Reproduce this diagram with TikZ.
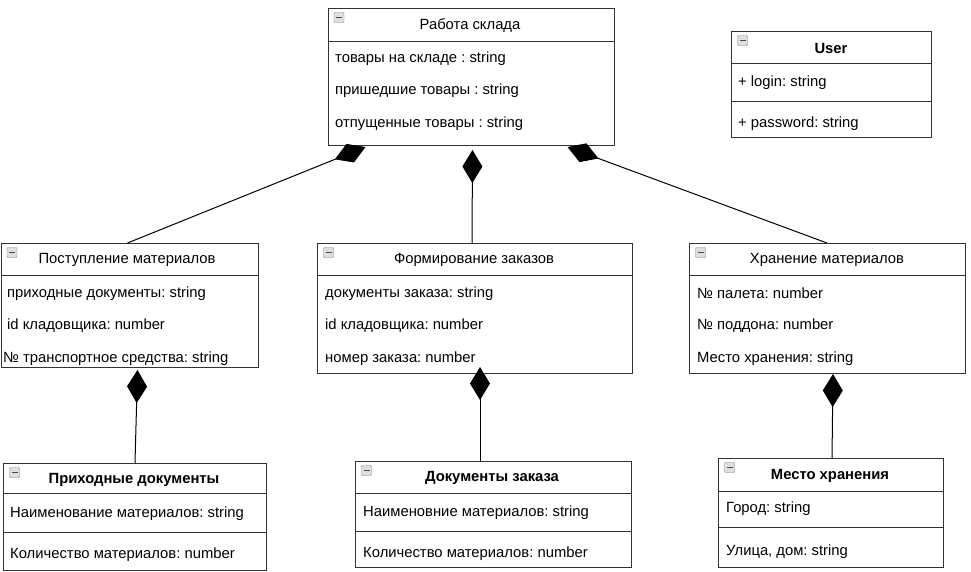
\documentclass[tikz,border=0pt]{standalone}
\usepackage{fontspec}
\setmainfont{Liberation Sans}
\usetikzlibrary{arrows.meta}
\frenchspacing

\tikzset{
  classbox/.style={draw=black!80, line width=1pt, anchor=north west, inner sep=0pt},
  field/.style={anchor=west, inner sep=0pt, yshift=-1.5pt},
  head/.style={inner sep=0pt, yshift=-1pt},
  minusbox/.style={draw=gray, fill=gray!25, rounded corners=1pt, minimum size=10pt, inner sep=0pt,
    path picture={\draw[black!70, line width=1.3pt] ([xshift=2pt]path picture bounding box.west) -- ([xshift=-2pt]path picture bounding box.east);}},
  comp/.style={{Diamond[length=33pt,width=20pt]}-, line width=1pt, black}
}

\begin{document}
\begin{tikzpicture}[x=1pt,y=-1pt,font=\fontsize{14.8}{17}\selectfont]
  \useasboundingbox (0,0) rectangle (971,571);

  % class boxes
  \node[classbox, minimum width=286pt, minimum height=137pt] (rabota) at (327.5,8) {};
  \node[classbox, minimum width=200pt, minimum height=106pt] (user) at (731,31) {};
  \node[classbox, minimum width=257pt, minimum height=124pt] (postup) at (0.5,243) {};
  \node[classbox, minimum width=315pt, minimum height=130pt] (formir) at (317,243) {};
  \node[classbox, minimum width=276pt, minimum height=130pt] (hran) at (689,243) {};
  \node[classbox, minimum width=263pt, minimum height=107pt] (prihod) at (3,463) {};
  \node[classbox, minimum width=276pt, minimum height=106pt] (dokzak) at (355,461) {};
  \node[classbox, minimum width=225pt, minimum height=109pt] (mesto) at (718,458) {};

  % dividers
  \draw[black!80, line width=1pt] (rabota.west |- 0,41) -- (rabota.east |- 0,41);
  \draw[black!80, line width=1pt] (user.west |- 0,63) -- (user.east |- 0,63);
  \draw[black!80, line width=1pt] (user.west |- 0,101) -- (user.east |- 0,101);
  \draw[black!80, line width=1pt] (postup.west |- 0,275) -- (postup.east |- 0,275);
  \draw[black!80, line width=1pt] (formir.west |- 0,275) -- (formir.east |- 0,275);
  \draw[black!80, line width=1pt] (hran.west |- 0,275) -- (hran.east |- 0,275);
  \draw[black!80, line width=1pt] (prihod.west |- 0,493) -- (prihod.east |- 0,493);
  \draw[black!80, line width=1pt] (prihod.west |- 0,532) -- (prihod.east |- 0,532);
  \draw[black!80, line width=1pt] (dokzak.west |- 0,493) -- (dokzak.east |- 0,493);
  \draw[black!80, line width=1pt] (dokzak.west |- 0,531) -- (dokzak.east |- 0,531);
  \draw[black!80, line width=1pt] (mesto.west |- 0,491) -- (mesto.east |- 0,491);
  \draw[black!80, line width=1pt] (mesto.west |- 0,527) -- (mesto.east |- 0,527);

  % collapse icons
  \foreach \n in {rabota,user,postup,formir,hran,prihod,dokzak,mesto}
    \node[minusbox] (\n-icon) at ([shift={(11.5pt,-9.5pt)}]\n.north west) {};

  % headers
  \node[head] (rabota-head) at (470,25) {Работа склада};
  \node[head] (user-head) at (831,47) {\bfseries User};
  \node[head] (postup-head) at (127,259) {Поступление материалов};
  \node[head] (formir-head) at (474,259) {Формирование заказов};
  \node[head] (hran-head) at (827,259) {Хранение материалов};
  \node[head] (prihod-head) at (134,479) {\bfseries Приходные документы};
  \node[head] (dokzak-head) at (492,477) {\bfseries Документы заказа};
  \node[head] (mesto-head) at (830,475) {\bfseries Место хранения};

  % fields
  \foreach \t [count=\i] in {товары на складе : string, пришедшие товары : string, отпущенные товары : string}
    \node[field] (rabota-\i) at (335,57+32.5*\i-32.5) {\t};
  \foreach \t [count=\i] in {приходные документы: string, id кладовщика: number}
    \node[field] (postup-\i) at (7,292+32.5*\i-32.5) {\t};
  \node[field] (postup-3) at (3,357) {№ транспортное средства: string};
  \foreach \t [count=\i] in {документы заказа: string, id кладовщика: number, номер заказа: number}
    \node[field] (formir-\i) at (325,292+32.5*\i-32.5) {\t};
  \foreach \t [count=\i] in {№ палета: number, № поддона: number, Место хранения: string}
    \node[field] (hran-\i) at (697,292+32.5*\i-32.5) {\t};
  \node[field] (user-1) at (738,81) {+ login: string};
  \node[field] (user-2) at (738,122) {+ password: string};
  \node[field] (prihod-1) at (10,512) {Наименование материалов: string};
  \node[field] (prihod-2) at (10,553) {Количество материалов: number};
  \node[field] (dokzak-1) at (363,511) {Наименовние материалов: string};
  \node[field] (dokzak-2) at (363,552) {Количество материалов: number};
  \node[field] (mesto-1) at (726,507) {Город: string};
  \node[field] (mesto-2) at (726,550) {Улица, дом: string};

  % compositions
  \draw[comp] ([xshift=38pt,yshift=-1pt]rabota.south west) -- ([xshift=127pt]postup.north west);
  \draw[comp] ([xshift=145pt,yshift=-4pt]rabota.south west) -- ([xshift=155pt]formir.north west);
  \draw[comp] ([xshift=240pt,yshift=-1pt]rabota.south west) -- ([xshift=138pt]hran.north west);
  \draw[comp] ([xshift=137pt,yshift=-2pt]postup.south west) -- ([xshift=132pt]prihod.north west);
  \draw[comp] ([xshift=163pt,yshift=7pt]formir.south west) -- ([xshift=125pt]dokzak.north west);
  \draw[comp] ([xshift=144pt]hran.south west) -- ([xshift=114pt]mesto.north west);
\end{tikzpicture}
\end{document}
